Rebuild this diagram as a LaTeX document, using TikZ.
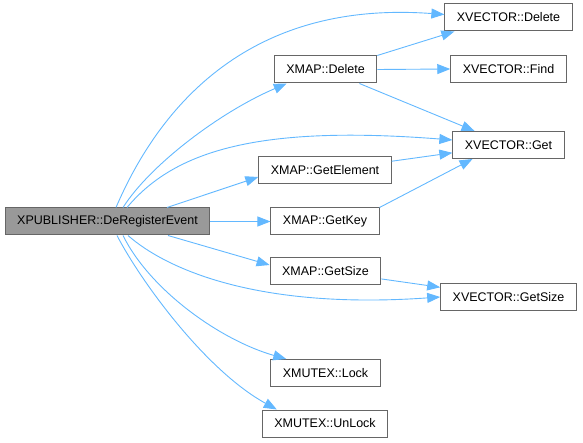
\documentclass[tikz,border=0pt]{standalone}
\usepackage{fontspec}
\setmainfont{Liberation Sans}
\usetikzlibrary{arrows.meta}
\definecolor{edgeblue}{HTML}{63B8FF}
\definecolor{boxline}{HTML}{666666}
\begin{document}
\begin{tikzpicture}[x=1pt,y=-1pt,font=\fontsize{12.5}{14}\selectfont,
  fn/.style={draw=boxline,fill=white,line width=1pt,minimum height=27pt,inner xsep=12pt,inner ysep=0pt},
  fnmain/.style={fn,fill=black!40},
  call/.style={edgeblue,line width=0.9pt,-{Triangle[length=13pt,width=10pt]}}]
\useasboundingbox (0,0) rectangle (583,443);
% caller
\node[fnmain] (pub) at (107.5,221.5) {XPUBLISHER::DeRegisterEvent};
% middle column
\node[fn] (mdel) at (325.5,69.5) {XMAP::Delete};
\node[fn] (mgetel) at (325,170.5) {XMAP::GetElement};
\node[fn] (mgetkey) at (325,221.5) {XMAP::GetKey};
\node[fn] (mgetsize) at (325.5,271) {XMAP::GetSize};
\node[fn] (lock) at (325.5,373) {XMUTEX::Lock};
\node[fn] (unlock) at (325,423.5) {XMUTEX::UnLock};
% right column
\node[fn] (vdel) at (508.5,17.5) {XVECTOR::Delete};
\node[fn] (vfind) at (508.5,69) {XVECTOR::Find};
\node[fn] (vget) at (508.5,145) {XVECTOR::Get};
\node[fn] (vgetsize) at (508.5,297) {XVECTOR::GetSize};
% calls from DeRegisterEvent
\draw[call] ([xshift=8.5pt]pub.north) .. controls (160,105) and (250,0) .. ([yshift=3pt]vdel.west);
\draw[call] ([xshift=15.5pt]pub.north) .. controls (150,165) and (220,112) .. ([xshift=13pt]mdel.south west);
\draw[call] ([xshift=19.5pt]pub.north) .. controls (175,150) and (260,125) .. ([yshift=5pt]vget.west);
\draw[call] ([xshift=59.5pt]pub.north) -- ([yshift=-6.5pt]mgetel.west);
\draw[call] (pub.east) -- (mgetkey.west);
\draw[call] ([xshift=60.5pt]pub.south) -- ([yshift=6pt]mgetsize.west);
\draw[call] ([xshift=20.5pt]pub.south) .. controls (165,268) and (255,310) .. (vgetsize.west);
\draw[call] ([xshift=15.5pt]pub.south) .. controls (150,290) and (220,340) .. ([xshift=16pt]lock.north west);
\draw[call] ([xshift=9.5pt]pub.south) .. controls (140,280) and (205,370) .. ([xshift=15pt]unlock.north west);
% calls from XMAP
\draw[call] (mdel.north east) -- ([xshift=10pt]vdel.south west);
\draw[call] (mdel.east) -- (vfind.west);
\draw[call] (mdel) -- (vget);
\draw[call] (mgetel) -- (vget);
\draw[call] (mgetkey.north east) -- ([xshift=-36pt]vget.south);
\draw[call] (mgetsize) -- (vgetsize);
\end{tikzpicture}
\end{document}
